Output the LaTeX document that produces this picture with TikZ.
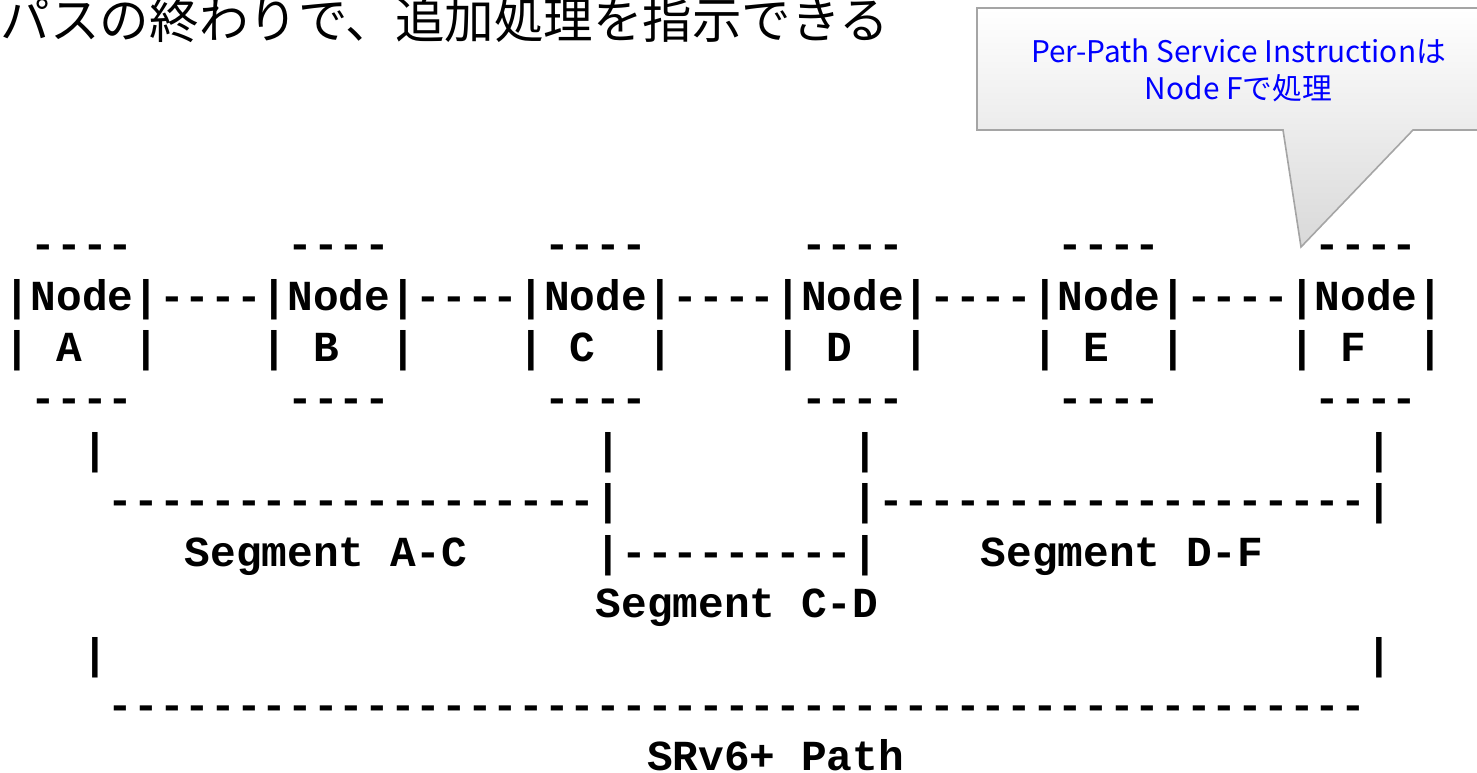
\documentclass[tikz,border=0pt]{standalone}
\usepackage{fontspec}
\setmonofont{Liberation Mono}
\newfontfamily\jpfont{Noto Sans CJK JP}
\definecolor{calloutblue}{RGB}{0,0,255}
\definecolor{calloutedge}{RGB}{165,165,165}
\tikzset{
  asc/.style={anchor=base west, inner sep=0pt, outer sep=0pt,
    font=\fontsize{42.8}{51.2}\selectfont\ttfamily\bfseries},
  titletext/.style={anchor=base west, inner sep=0pt, outer sep=0pt,
    font=\jpfont\fontsize{49.5}{49.5}\selectfont},
  calltext/.style={anchor=base, inner sep=0pt, outer sep=0pt, text=calloutblue,
    font=\jpfont\fontsize{29.8}{29.8}\selectfont},
  callout/.style={draw=calloutedge, line width=1.6pt, line join=miter,
    top color=white, bottom color=black!15}
}
\newcommand\asc[4]{\node[asc] (#1) at ({5+25.68*(#2)},{258.8+51.2*(#3)}) {#4};}
\begin{document}
\begin{tikzpicture}[x=1pt,y=-1pt]
\useasboundingbox (0,0) rectangle (1477,773);
\clip (0,0) rectangle (1477,773);
% title
\node[titletext] (title) at (1,39) {パスの終わりで、追加処理を指示できる};
% callout
\coordinate (tip) at (1301,247);
\path[callout] (977,8) -- (1490,8) -- (1490,130) -- (1413,130) -- (tip) -- (1283,130) -- (977,130) -- cycle;
\node[calltext] (call1) at (1238.5,63) {Per-Path Service Instructionは};
\node[calltext] (call2) at (1238.5,100) {Node Fで処理};
% node boxes
\foreach \k/\L in {0/A,1/B,2/C,3/D,4/E,5/F}{
  \asc{top\L}{10*\k+1}{0}{----}
  \asc{box\L}{10*\k}{1}{|Node|}
  \asc{lbar\L}{10*\k}{2}{|}
  \asc{name\L}{10*\k+2}{2}{\L}
  \asc{rbar\L}{10*\k+5}{2}{|}
  \asc{bot\L}{10*\k+1}{3}{----}
}
\foreach \k in {0,1,2,3,4}{
  \asc{link\k}{10*\k+6}{1}{----}
}
% segment markers
\asc{vA}{3}{4}{|}
\asc{vC}{23}{4}{|}
\asc{vD}{33}{4}{|}
\asc{vF}{53}{4}{|}
\asc{segAC}{4}{5}{-------------------|}
\asc{segDF}{33}{5}{|-------------------|}
\asc{lblACa}{7}{6}{Segment}
\asc{lblACb}{15}{6}{A-C}
\asc{segCD}{23}{6}{|---------|}
\asc{lblDFa}{38}{6}{Segment}
\asc{lblDFb}{46}{6}{D-F}
\asc{lblCDa}{23}{7}{Segment}
\asc{lblCDb}{31}{7}{C-D}
\asc{pA}{3}{8}{|}
\asc{pF}{53}{8}{|}
\asc{path}{4}{9}{-------------------------------------------------}
\asc{lblPa}{25}{10}{SRv6+}
\asc{lblPb}{31}{10}{Path}
\end{tikzpicture}
\end{document}
